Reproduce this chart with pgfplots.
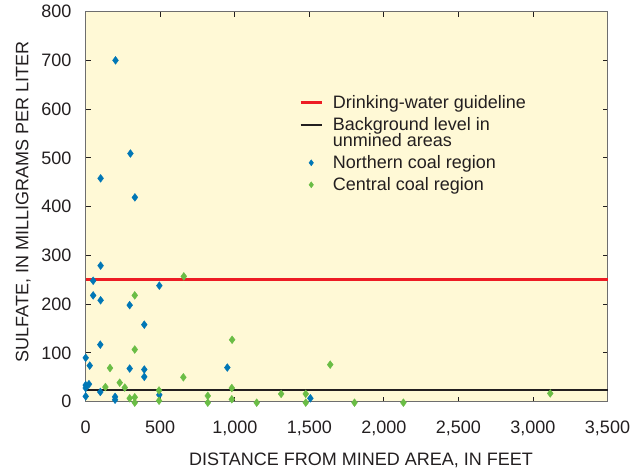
\documentclass[border=0pt]{standalone}
\usepackage{fontspec}
\setmainfont{Liberation Sans}
\usepackage{pgfplots}
\pgfplotsset{compat=1.18}
\definecolor{bgyel}{RGB}{255,249,214}
\definecolor{nblue}{RGB}{0,119,182}
\definecolor{cgreen}{RGB}{106,189,69}
\definecolor{gred}{RGB}{237,28,36}
\definecolor{txt}{RGB}{35,31,32}
\definecolor{axgray}{RGB}{110,110,110}
\pgfplotsset{
  lineleg/.style={legend image code/.code={\draw[##1] (0pt,5.5pt) -- (21pt,5.5pt);}},
  markleg/.style={legend image code/.code={\draw[##1,mark size=3pt] plot coordinates {(10.5pt,5.5pt)};}},
}
\begin{document}
\begin{tikzpicture}
\path[use as bounding box] (-85.7pt,-68.3pt) rectangle (556.3pt,401.7pt);
\begin{axis}[
  at={(0pt,0pt)}, anchor=south west,
  scale only axis, width=521.8pt, height=390.1pt,
  xmin=0, xmax=3500, ymin=0, ymax=800,
  xtick={0,500,...,3500}, ytick={0,100,...,800},
  tick pos=both, tick align=inside, major tick length=5pt,
  tick style={color=txt, line width=0.9pt},
  axis line style={color=axgray, line width=1.6pt},
  axis background/.style={fill=bgyel},
  clip=false,
  /pgf/number format/.cd, 1000 sep={,}, assume math mode=true, /pgfplots/.cd,
  every tick label/.append style={font=\fontsize{18}{21}\selectfont, text=txt},
  xticklabel style={anchor=base, inner sep=0pt, yshift=-31.6pt},
  yticklabel style={anchor=east, inner sep=0pt, xshift=-14pt},
  xlabel={DISTANCE FROM MINED AREA, IN FEET},
  ylabel={SULFATE, IN MILLIGRAMS PER LITER},
  label style={font=\fontsize{18}{21}\selectfont, text=txt, inner sep=0pt},
  xlabel style={at={(axis description cs:0.5276,-0.1623)}, anchor=base},
  ylabel style={at={(axis description cs:-0.110,0.5127)}, anchor=base},
  legend style={at={(axis description cs:0.4094,0.7906)}, anchor=north west,
    draw=none, fill=none, inner sep=0pt, outer sep=0pt, row sep=0pt, column sep=9.7pt,
    font=\fontsize{18}{17}\selectfont, text=txt,
    nodes={inner sep=0pt, text depth=, text height=}, cells={anchor=base west}},
]
\addplot[gred, line width=2.8pt, lineleg]
  coordinates {(0,250) (3500,250)};
\addlegendentry{\rule[-7pt]{0pt}{22pt}Drinking-water guideline}
\addplot[txt, line width=1.6pt, lineleg]
  coordinates {(0,24) (3500,24)};
\addlegendentry{\rule[-23pt]{0pt}{38pt}\parbox[t]{7cm}{\fontsize{18}{16.5}\selectfont\lineskiplimit=-20pt Background level in\par unmined areas}}
\addplot[only marks, mark=diamond*, mark size=3.9pt, color=nblue, markleg]
  coordinates {
  (200,700) (300,509) (100,458) (330,419) (100,279) (50,248) (50,218)
  (100,208) (295,198) (494,238) (393,158) (98,117) (0,90) (27,74)
  (295,68) (393,66) (393,51) (0,34) (22,36) (0,28) (98,20) (0,11)
  (197,10) (197,4) (494,14) (950,70) (1507,7)
  };
\addlegendentry{\rule[-7pt]{0pt}{22pt}Northern coal region}
\addplot[only marks, mark=diamond*, mark size=3.9pt, color=cgreen, markleg]
  coordinates {
  (658,257) (329,218) (329,107) (982,127) (163,69) (655,50) (228,39)
  (262,29) (132,30) (980,28) (492,23) (819,12) (295,7) (329,9)
  (329,-2) (492,2) (819,-2) (980,5) (1147,-2) (1640,76) (1311,16)
  (1476,16) (1476,-2) (1803,-2) (2131,-2) (3116,17)
  };
\addlegendentry{\rule[-7pt]{0pt}{22pt}Central coal region}
\end{axis}
\end{tikzpicture}
\end{document}
